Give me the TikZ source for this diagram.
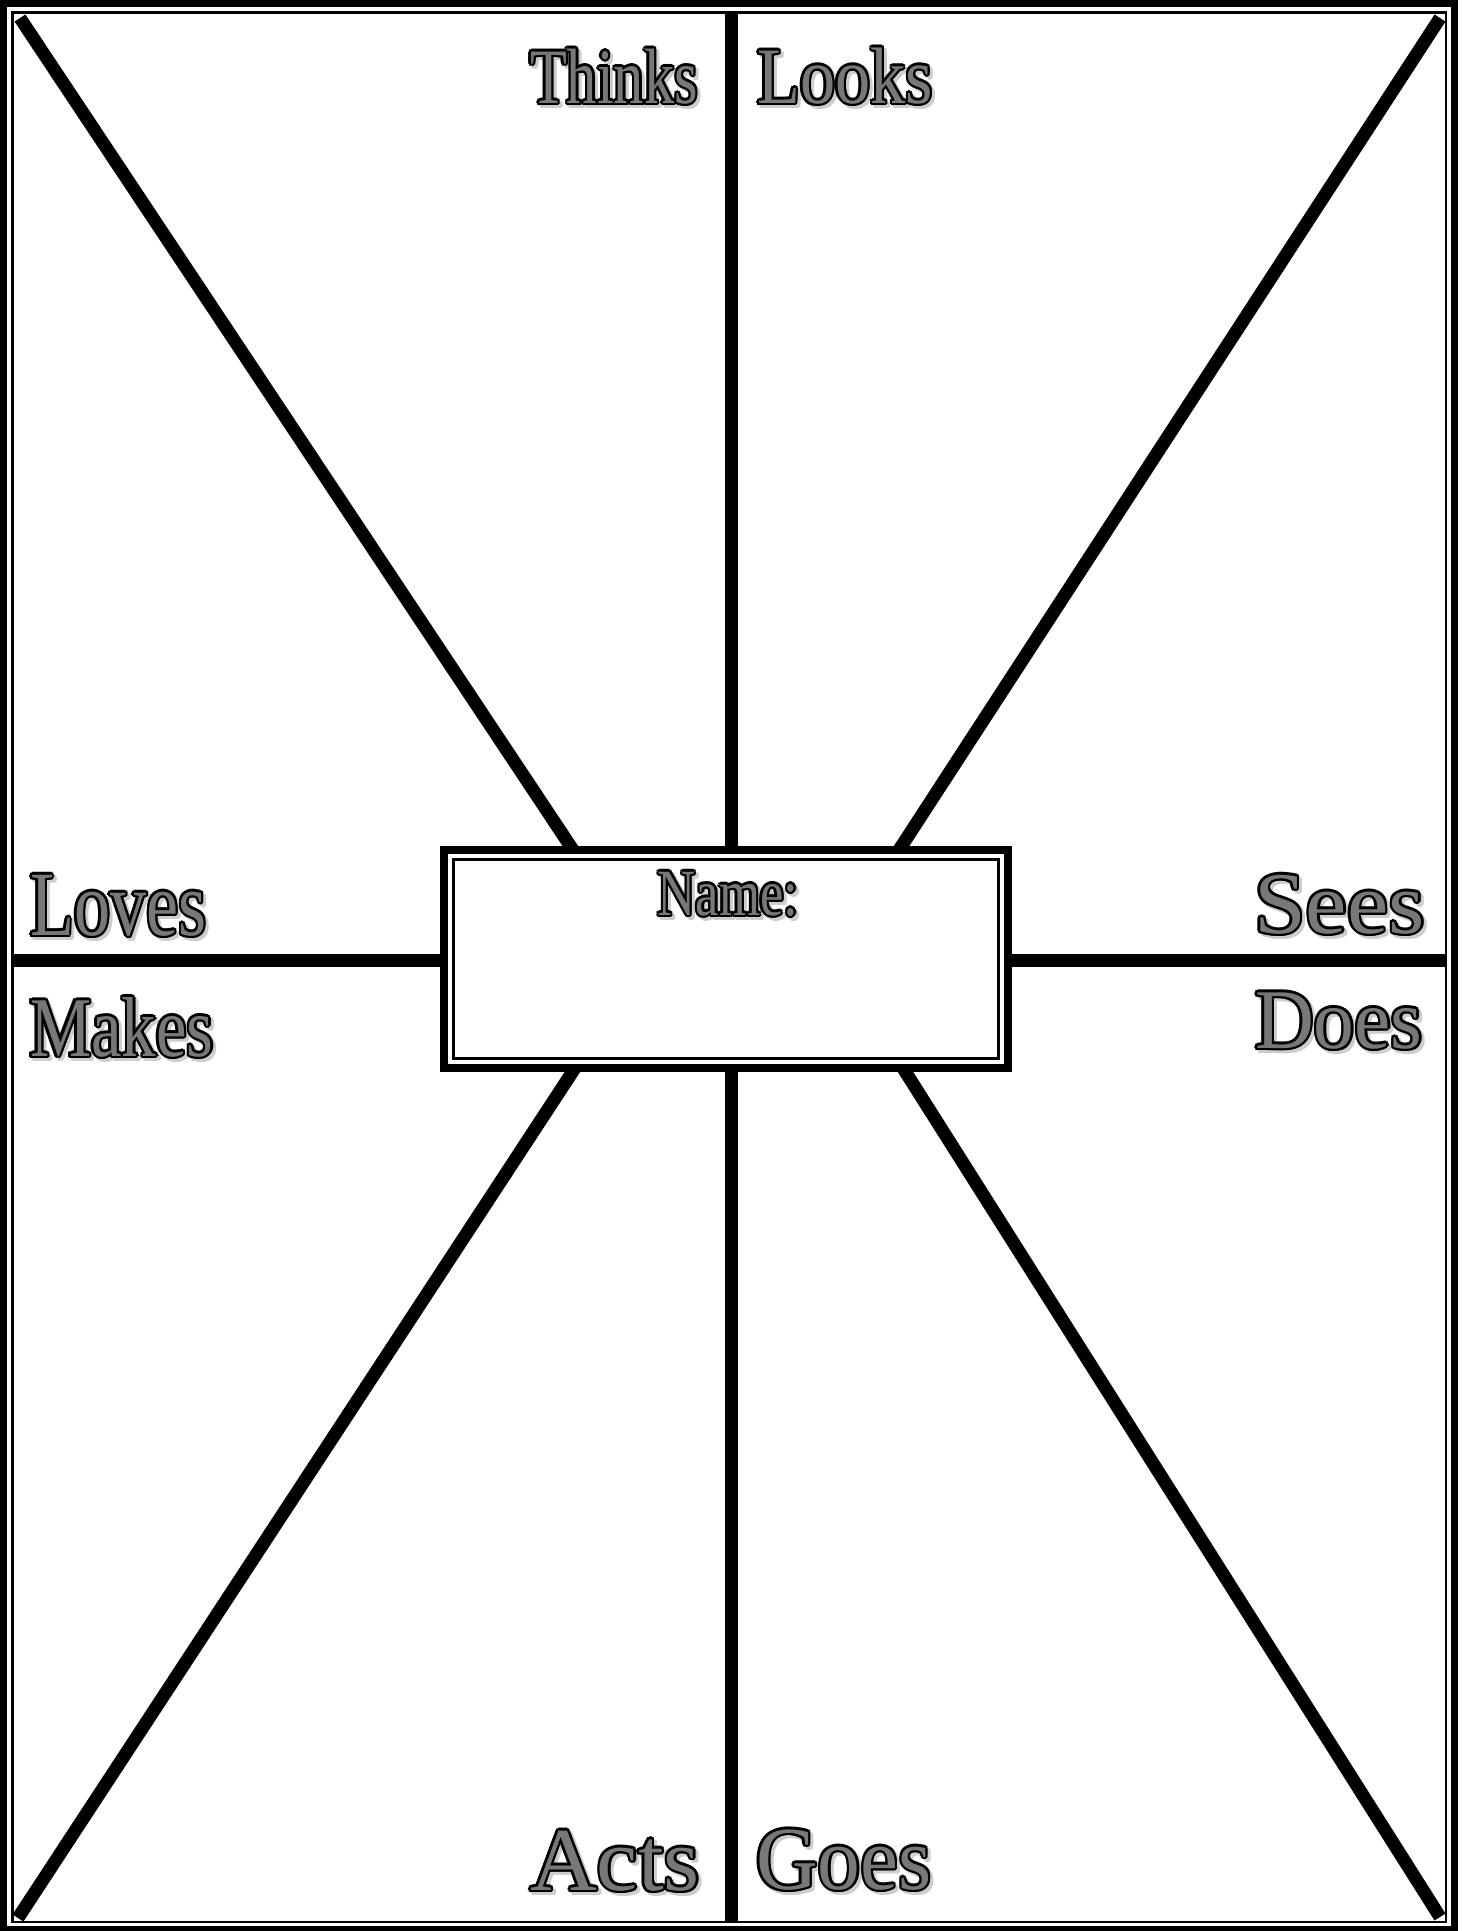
\documentclass[tikz,border=0pt]{standalone}
\usepackage{fontspec}
\setmainfont{Liberation Serif}
\usepackage{graphicx}
\usetikzlibrary{calc}
\definecolor{fillc}{RGB}{120,120,120}
\definecolor{shadowc}{RGB}{205,205,205}
\newcommand\oc[4]{\makebox[0pt][l]{\hspace*{\dimexpr#1\relax}\raisebox{\dimexpr#2\relax}{\color{#3}#4}}}
\newcommand\ring[4]{%
 \oc{#1+2.3pt}{#2}{#3}{#4}%
 \oc{#1+2pt}{#2+1.15pt}{#3}{#4}%
 \oc{#1+1.15pt}{#2+2pt}{#3}{#4}%
 \oc{#1}{#2+2.3pt}{#3}{#4}%
 \oc{#1-1.15pt}{#2+2pt}{#3}{#4}%
 \oc{#1-2pt}{#2+1.15pt}{#3}{#4}%
 \oc{#1-2.3pt}{#2}{#3}{#4}%
 \oc{#1-2pt}{#2-1.15pt}{#3}{#4}%
 \oc{#1-1.15pt}{#2-2pt}{#3}{#4}%
 \oc{#1}{#2-2.3pt}{#3}{#4}%
 \oc{#1+1.15pt}{#2-2pt}{#3}{#4}%
 \oc{#1+2pt}{#2-1.15pt}{#3}{#4}}
\newcommand\wordart[1]{\ring{3pt}{-3pt}{shadowc}{#1}\ring{0pt}{0pt}{black}{#1}{\color{fillc}#1}}
\newcommand\wa[3]{\fontsize{#1}{#1}\selectfont\wordart{\scalebox{#2}[1]{#3}}}
\begin{document}
\begin{tikzpicture}[x=1pt,y=-1pt,
  lbl/.style={inner sep=0pt,outer sep=0pt,anchor=base west},
  spoke/.style={line width=13pt,line cap=butt},
  frameout/.style={line width=7pt},
  framein/.style={line width=2.2pt},
  namebox/.style={draw,line width=8pt,fill=white,inner sep=0pt,outer sep=0pt,
    minimum width=564pt,minimum height=218pt}]
\useasboundingbox (0,0) rectangle (1463,1931);
% frame
\draw[frameout] (3.5,3.5) rectangle (1454.5,1929);
\draw[framein] (12.5,12.5) rectangle (1446,1922);
% central box
\node[namebox] (box) at (726,959) {};
\draw[line width=2.5pt] ($(box.north west)+(9.5,9.5)$) rectangle ($(box.south east)+(-9.5,-9.5)$);
% spoke end points
\coordinate (ctl) at (20,18);
\coordinate (ctr) at (1440,18);
\coordinate (cbl) at (18,1918);
\coordinate (cbr) at (1440,1917);
\coordinate (ctop) at (731,12.5);
\coordinate (cbot) at (731,1922);
\coordinate (cleft) at (12.5,960);
\coordinate (cright) at (1446,960);
\coordinate (etl) at (573,850);
\coordinate (etr) at (899,850);
\coordinate (ebl) at (575,1068);
\coordinate (ebr) at (903,1068);
\coordinate (etop) at (731,850);
\coordinate (ebot) at (731,1068);
\coordinate (eleft) at (444,960);
\coordinate (eright) at (1008,960);
% spokes
\draw[spoke] (ctl) -- (etl);
\draw[spoke] (ctr) -- (etr);
\draw[spoke] (cbl) -- (ebl);
\draw[spoke] (cbr) -- (ebr);
\draw[spoke] (ctop) -- (etop);
\draw[spoke] (cbot) -- (ebot);
\draw[spoke] (cleft) -- (eleft);
\draw[spoke] (cright) -- (eright);
% labels
\node[lbl] (thinks) at (530,103) {\wa{78.5}{0.77}{Thinks}};
\node[lbl] (looks) at (757,103) {\wa{80}{0.88}{Looks}};
\node[lbl] (loves) at (30,935) {\wa{92}{0.785}{Loves}};
\node[lbl] (makes) at (30,1056) {\wa{85}{0.81}{Makes}};
\node[lbl] (sees) at (1254,933) {\wa{88}{1.06}{Sees}};
\node[lbl] (does) at (1255,1048) {\wa{85}{0.96}{Does}};
\node[lbl] (acts) at (530,1890) {\wa{90}{1.03}{Acts}};
\node[lbl] (goes) at (756,1889) {\wa{90}{0.95}{Goes}};
\node[inner sep=0pt,outer sep=0pt,anchor=base] (name) at (728,915) {\wa{66}{0.80}{Name:}};
\end{tikzpicture}
\end{document}
